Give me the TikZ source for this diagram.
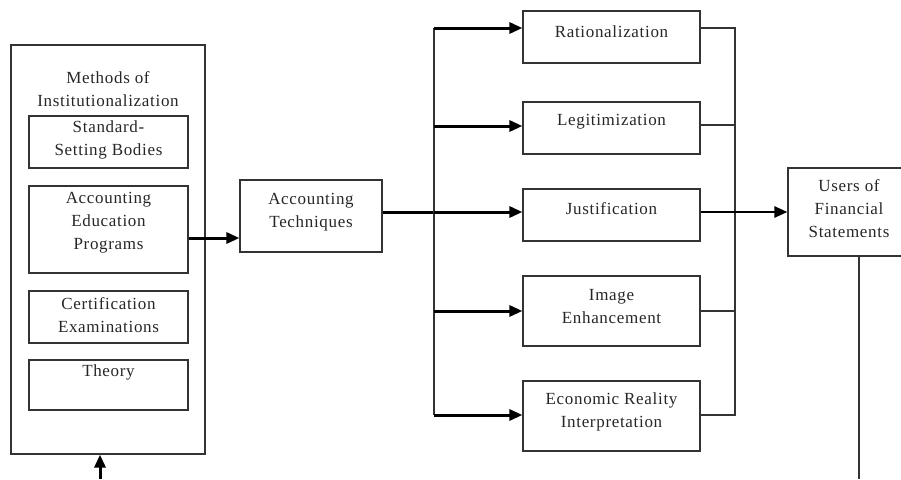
\documentclass[tikz,border=0pt]{standalone}
\usepackage{fontspec}
\setmainfont{Liberation Serif}[LetterSpace=4]
\usetikzlibrary{arrows.meta,calc}
\begin{document}
\begin{tikzpicture}[x=1pt,y=-1pt,
  box/.style={draw=black!80,line width=1.2pt,inner sep=0pt},
  txt/.style={align=center,font=\fontsize{17}{23}\selectfont,inner sep=0pt,text=black!85},
  thickarrow/.style={line width=3pt,-{Triangle[length=13pt,width=11pt]}},
  thinline/.style={line width=1.2pt,draw=black!80}]
\useasboundingbox (0,0) rectangle (901,479);
% left outer box
\node[box,minimum width=194pt,minimum height=409pt] (outer) at (108,249.5) {};
\node[txt] (outert) at (108,89) {Methods of\\Institutionalization};
\node[box,minimum width=159pt,minimum height=52pt] (std) at (108.5,142) {};
\node[txt] (stdt) at (108.5,139.5) {Standard-\\Setting Bodies};
\node[box,minimum width=159pt,minimum height=87pt] (edu) at (108.5,229.5) {};
\node[txt] (edut) at (108.5,222.5) {Accounting\\Education\\Programs};
\node[box,minimum width=159pt,minimum height=52pt] (cert) at (108.5,317) {};
\node[txt] (certt) at (108.5,315) {Certification\\Examinations};
\node[box,minimum width=159pt,minimum height=50pt] (theo) at (108.5,385) {};
\node[txt] (theot) at (108.5,372) {Theory};
% accounting techniques
\node[box,minimum width=142pt,minimum height=72pt] (tech) at (311,216) {};
\node[txt] (techt) at (311,212) {Accounting\\Techniques};
% right column
\node[box,minimum width=177pt,minimum height=52pt] (rat) at (611.5,37) {};
\node[txt] (ratt) at (611.5,32) {Rationalization};
\node[box,minimum width=177pt,minimum height=52pt] (leg) at (611.5,128) {};
\node[txt] (legt) at (611.5,122) {Legitimization};
\node[box,minimum width=177pt,minimum height=52pt] (just) at (611.5,215) {};
\node[txt] (justt) at (611.5,209) {Justification};
\node[box,minimum width=177pt,minimum height=70pt] (img) at (611.5,311) {};
\node[txt] (imgt) at (611.5,306.5) {Image\\Enhancement};
\node[box,minimum width=177pt,minimum height=70pt] (econ) at (611.5,416) {};
\node[txt] (econt) at (611.5,411.5) {Economic Reality\\Interpretation};
% users
\node[box,minimum width=122pt,minimum height=88pt] (users) at (849,212) {};
\node[txt] (userst) at (849,209) {Users of\\Financial\\Statements};
% trunk coordinates
\coordinate (l1) at (434,28);
\coordinate (l2) at (434,126);
\coordinate (l3) at (434,212);
\coordinate (l4) at (434,311);
\coordinate (l5) at (434,415);
\coordinate (r1) at (735,28);
\coordinate (r2) at (735,125);
\coordinate (r4) at (735,311);
\coordinate (r5) at (735,415);
\coordinate (bot) at (100,479);
\coordinate (ubot) at (859,479);
% connectors
\draw[thickarrow] (bot) -- (bot |- outer.south);
\draw[thickarrow] ([yshift=-8.5pt]edu.east) -- ([yshift=-8.5pt]edu.east -| tech.west);
\draw[line width=3pt] ([yshift=4pt]tech.east) -- (l3);
\draw[thinline] (l1) -- (l5);
\draw[thickarrow] (l1) -- (l1 -| rat.west);
\draw[thickarrow] (l2) -- (l2 -| leg.west);
\draw[thickarrow] (l3) -- (l3 -| just.west);
\draw[thickarrow] (l4) -- (l4 -| img.west);
\draw[thickarrow] (l5) -- (l5 -| econ.west);
\draw[thinline] (r1 -| rat.east) -- (r1) -- (r5) -- (r5 -| econ.east);
\draw[thinline] (r2 -| leg.east) -- (r2);
\draw[thinline] (r4 -| img.east) -- (r4);
\draw[thickarrow,line width=2.6pt] ([yshift=3pt]just.east) -- ([yshift=3pt]just.east -| users.west);
\draw[thinline] (users.south -| ubot) -- (ubot);
\end{tikzpicture}
\end{document}
